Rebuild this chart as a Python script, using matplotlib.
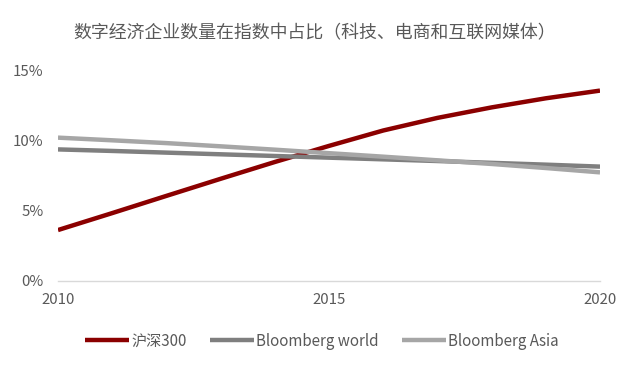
import matplotlib
matplotlib.use("Agg")
import matplotlib.pyplot as plt
from matplotlib.ticker import FuncFormatter

plt.rcParams['font.family'] = ['Noto Sans CJK SC', 'DejaVu Sans']

years = [2010, 2011, 2012, 2013, 2014, 2015, 2016, 2017, 2018, 2019, 2020]
hs300 = [3.64, 4.85, 6.08, 7.30, 8.50, 9.65, 10.75, 11.65, 12.40, 13.05, 13.60]
bb_world = [9.40, 9.29, 9.17, 9.05, 8.93, 8.81, 8.69, 8.57, 8.44, 8.31, 8.17]
bb_asia = [10.24, 10.05, 9.85, 9.62, 9.38, 9.13, 8.88, 8.62, 8.36, 8.07, 7.76]
series_names = ['沪深300', 'Bloomberg world', 'Bloomberg Asia']
title = '数字经济企业数量在指数中占比（科技、电商和互联网媒体）'
xticks = [2010, 2015, 2020]
yticks = [0, 5, 10, 15]

text_c = '#595959'
colors = ['#8B0000', '#7F7F7F', '#A6A6A6']

fig = plt.figure(figsize=(6.39, 3.69), dpi=100)
ax = fig.add_axes([58/639, 1-281/369, (600-58)/639, (281-71)/369])

for vals, name, c in zip([hs300, bb_world, bb_asia], series_names, colors):
    ax.plot(years, vals, color=c, lw=3.2, label=name, solid_capstyle='butt')

ax.set_xlim(2010, 2020)
ax.set_ylim(0, 15)
ax.set_xticks(xticks)
ax.set_yticks(yticks)
ax.yaxis.set_major_formatter(FuncFormatter(lambda v, p: f'{v:.0f}%'))
for s in ['top', 'right', 'left']:
    ax.spines[s].set_visible(False)
ax.spines['bottom'].set_color('#D9D9D9')
ax.spines['bottom'].set_linewidth(1.0)
ax.tick_params(axis='both', length=0, labelsize=10.8, colors=text_c)
ax.tick_params(axis='y', pad=10.5)
ax.tick_params(axis='x', pad=9)

fig.text(315/639, 1-33/369, title, ha='center', va='center', fontsize=12.9, color=text_c)

leg = fig.legend(loc='center', bbox_to_anchor=(322/639, 1-341/369), ncol=3, frameon=False,
                 fontsize=10.9, handlelength=2.9, handletextpad=0.15, columnspacing=1.55)
for t in leg.get_texts():
    t.set_color(text_c)

fig.savefig('out.png', dpi=100)
